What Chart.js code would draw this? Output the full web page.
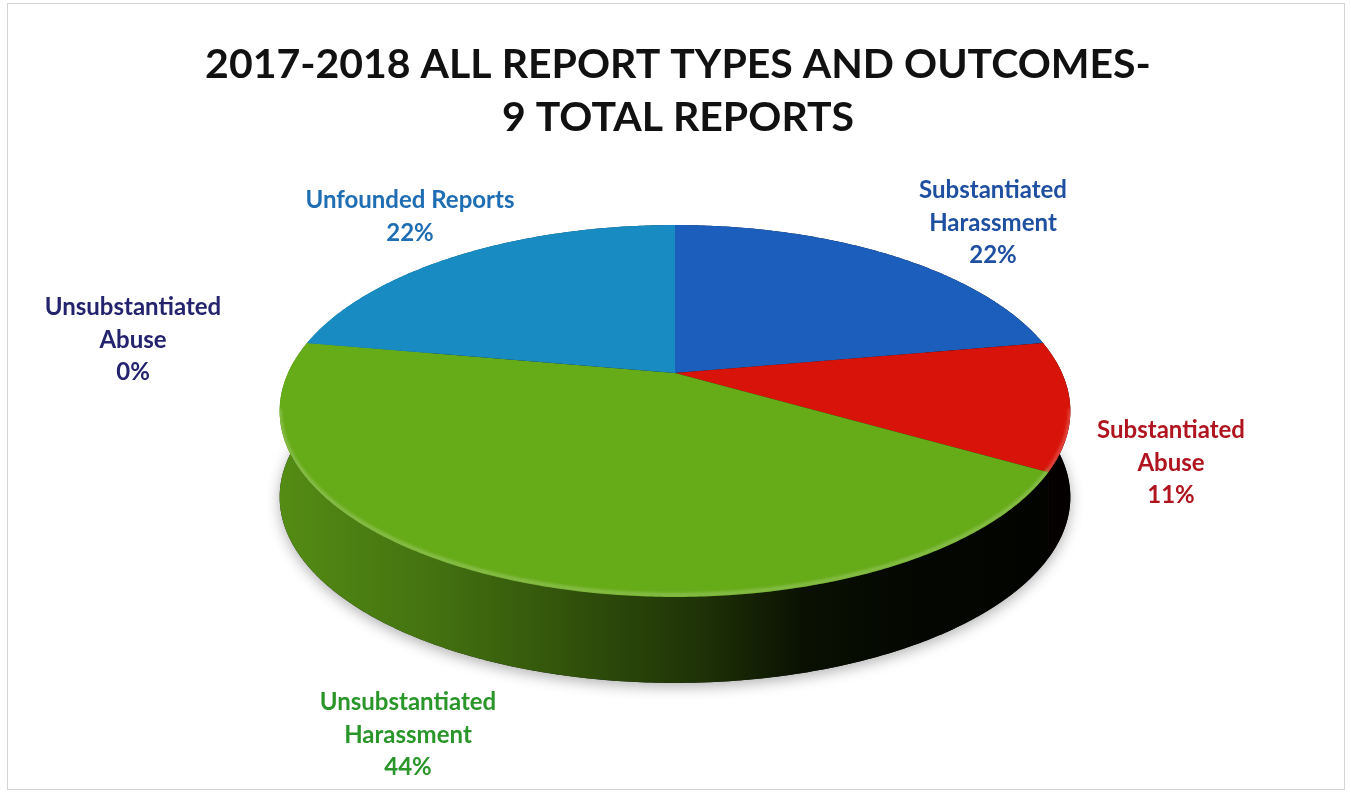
<!DOCTYPE html>
<html>
<head>
<meta charset="utf-8">
<script src="https://cdn.jsdelivr.net/npm/chart.js@4.4.1/dist/chart.umd.min.js"></script>
<style>
  html, body { margin: 0; padding: 0; background: #fff; }
  #chart { display: block; }
</style>
</head>
<body>
<canvas id="chart" width="1351" height="793"></canvas>
<script>
const categories = [
  ['Substantiated', 'Harassment'],
  ['Substantiated', 'Abuse'],
  ['Unsubstantiated', 'Harassment'],
  ['Unfounded Reports'],
  ['Unsubstantiated', 'Abuse']
];
const reportCounts = [2, 1, 4, 2, 0];
const sliceColors = ['#1c5ebc', '#d8140a', '#66ab18', '#188cc2', '#2b2f7a'];
const labelColors = ['#1f4fa0', '#b0141e', '#2a962a', '#1f6eb4', '#23236e'];
const titleLines = ['2017-2018 ALL REPORT TYPES AND OUTCOMES-', '9 TOTAL REPORTS'];

// label blocks: centre x, baseline of first line
const labelAnchors = [[993, 198], [1171, 438], [408, 710], [410, 208], [133, 315]];

// tilt of the disc, in units of the pie radius
const TILT = { sx: 2.237, sy: 1.03, persp: 0.2043, depth: 0.497 };

function rgb(hex) {
  const n = parseInt(hex.slice(1), 16);
  return [(n >> 16) & 255, (n >> 8) & 255, n & 255];
}
function shade(hex, f) {
  const [r, g, b] = rgb(hex);
  return `rgb(${Math.round(r * f)},${Math.round(g * f)},${Math.round(b * f)})`;
}
function tint(hex, f, a) {
  const [r, g, b] = rgb(hex);
  const m = v => Math.round(v + (255 - v) * f);
  return `rgba(${m(r)},${m(g)},${m(b)},${a})`;
}

// map a point of the flat pie (angle, fraction of radius) onto the tilted disc
function project(el, a, r = 1) {
  const X = Math.cos(a) * r, Y = -Math.sin(a) * r;
  const d = 1 + TILT.persp * Y;
  return [el.x + el.outerRadius * TILT.sx * X / d, el.y - el.outerRadius * TILT.sy * Y / d];
}
function rim(el, a0, a1) {
  const steps = Math.max(2, Math.ceil((a1 - a0) / 0.01));
  const pts = [];
  for (let i = 0; i <= steps; i++) pts.push(project(el, a0 + (a1 - a0) * i / steps));
  return pts;
}
function tracePts(ctx, pts, dy = 0, reverse = false) {
  const list = reverse ? pts.slice().reverse() : pts;
  list.forEach(([x, y]) => ctx.lineTo(x, y + dy));
}

const pie3d = {
  id: 'pie3d',
  beforeDatasetsDraw(chart) {
    const ctx = chart.ctx;
    const arcs = chart.getDatasetMeta(0).data;
    const ref = arcs[0];
    const depth = ref.outerRadius * TILT.depth;
    const halfW = ref.outerRadius * TILT.sx / Math.sqrt(1 - TILT.persp * TILT.persp);
    const xl = ref.x - halfW, xr = ref.x + halfW;
    const all = rim(ref, 0, Math.PI * 2);

    // soft shadow under the disc
    ctx.save();
    ctx.shadowColor = 'rgba(0,0,0,0.3)';
    ctx.shadowBlur = 14;
    ctx.shadowOffsetY = 4;
    ctx.beginPath();
    ctx.moveTo(all[0][0], all[0][1] + depth);
    tracePts(ctx, all, depth);
    ctx.closePath();
    ctx.fillStyle = '#1a1a1a';
    ctx.fill();
    ctx.restore();

    // outer walls, darkening towards the right
    arcs.forEach((arc, i) => {
      if (arc.endAngle - arc.startAngle < 1e-6) return;
      const pts = rim(arc, arc.startAngle, arc.endAngle);
      const g = ctx.createLinearGradient(xl, 0, xr, 0);
      const c = sliceColors[i];
      g.addColorStop(0, shade(c, 0.82));
      g.addColorStop(0.2, shade(c, 0.66));
      g.addColorStop(0.33, shade(c, 0.52));
      g.addColorStop(0.53, shade(c, 0.3));
      g.addColorStop(0.66, shade(c, 0.1));
      g.addColorStop(0.8, shade(c, 0.04));
      g.addColorStop(1, shade(c, 0.02));
      ctx.beginPath();
      ctx.moveTo(pts[0][0], pts[0][1]);
      tracePts(ctx, pts);
      tracePts(ctx, pts, depth, true);
      ctx.closePath();
      ctx.fillStyle = g;
      ctx.fill();
    });

    // top faces
    arcs.forEach((arc, i) => {
      if (arc.endAngle - arc.startAngle < 1e-6) return;
      const pts = rim(arc, arc.startAngle, arc.endAngle);
      ctx.beginPath();
      ctx.moveTo(arc.x, arc.y);
      tracePts(ctx, pts);
      ctx.closePath();
      ctx.fillStyle = sliceColors[i];
      ctx.fill();
    });

    // bevel highlight just inside the front edge
    ctx.save();
    ctx.beginPath();
    ctx.moveTo(all[0][0], all[0][1]);
    tracePts(ctx, all);
    ctx.closePath();
    ctx.clip();
    const a0 = Math.asin(TILT.persp), a1 = Math.PI - a0;
    arcs.forEach((arc, i) => {
      const s = Math.max(arc.startAngle, a0), e = Math.min(arc.endAngle, a1);
      if (e <= s) return;
      const pts = rim(arc, s, e);
      ctx.beginPath();
      ctx.moveTo(pts[0][0], pts[0][1] - 2);
      tracePts(ctx, pts, -2);
      ctx.lineWidth = 4;
      ctx.strokeStyle = tint(sliceColors[i], 0.3, 0.75);
      ctx.filter = 'blur(1.5px)';
      ctx.stroke();
    });
    ctx.restore();
    return false;
  }
};

const textLayer = {
  id: 'textLayer',
  beforeDraw(chart) {
    const ctx = chart.ctx;
    ctx.save();
    ctx.strokeStyle = '#d4d4d4';
    ctx.lineWidth = 1;
    ctx.strokeRect(7.5, 3.5, 1337, 786);
    ctx.restore();
  },
  afterDraw(chart) {
    const ctx = chart.ctx;
    const total = reportCounts.reduce((a, b) => a + b, 0);
    ctx.save();
    ctx.textAlign = 'center';
    ctx.textBaseline = 'alphabetic';
    ctx.fillStyle = '#111';
    ctx.font = 'bold 41px Lato';
    titleLines.forEach((t, i) => ctx.fillText(t, 678, 78 + i * 53));

    ctx.font = 'bold 24px Lato';
    categories.forEach((lines, i) => {
      const pct = Math.round(reportCounts[i] / total * 100) + '%';
      const [x, y] = labelAnchors[i];
      ctx.fillStyle = labelColors[i];
      lines.concat([pct]).forEach((t, j) => ctx.fillText(t, x, y + j * 32.5));
    });
    ctx.restore();
  }
};

new Chart(document.getElementById('chart'), {
  type: 'pie',
  data: {
    labels: categories,
    datasets: [{ data: reportCounts, backgroundColor: sliceColors, borderWidth: 0 }]
  },
  options: {
    responsive: false,
    animation: false,
    layout: { padding: { top: 200, bottom: 247, left: 300, right: 301 } },
    plugins: {
      legend: { display: false },
      tooltip: { enabled: false },
      title: { display: false }
    }
  },
  plugins: [pie3d, textLayer]
});
</script>
</body>
</html>
